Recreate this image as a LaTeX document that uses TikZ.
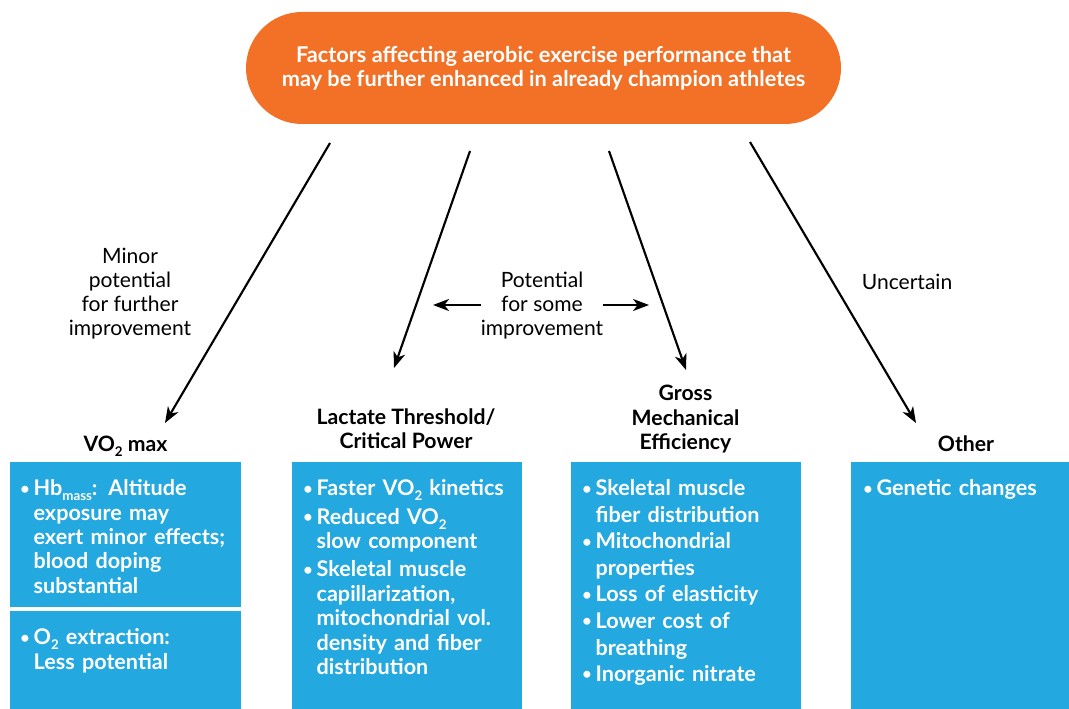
\documentclass[tikz,border=0pt]{standalone}
\usepackage{fontspec}
\setmainfont{Lato}
\usetikzlibrary{arrows.meta}

\definecolor{topOrange}{RGB}{242,113,38}
\definecolor{boxBlue}{RGB}{35,168,224}

% lowered small index, as in VO2 and Hb_mass
\newcommand{\lowidx}[1]{\raisebox{-0.45ex}{\fontsize{10}{10}\selectfont #1}}
% small bullet mark
\newcommand{\bmark}{\raisebox{0.15ex}{\fontsize{12}{12}\selectfont\textbullet}}
% bullet item with hanging indent; \\ inside breaks the line, not the paragraph
\newcommand{\bitem}[1]{\par\hangindent=10pt\hangafter=1\noindent\makebox[10pt][l]{\bmark}\begingroup\let\\\newline#1\endgroup\par}

\tikzset{
  topbox/.style={draw=none, fill=topOrange, text=white, font=\bfseries\fontsize{16.3}{18}\selectfont,
    align=center, minimum width=446.25pt, minimum height=84pt, rounded corners=42pt, inner sep=0pt},
  bluebox/.style={draw=none, fill=boxBlue, anchor=north west, inner sep=0pt},
  boxtext/.style={text=white, anchor=north west, inner sep=0pt, text width=168pt, align=left,
    font=\bfseries\fontsize{16.2}{18.3}\selectfont},
  head/.style={anchor=north, inner sep=0pt, align=center, font=\bfseries\fontsize{15.9}{18.3}\selectfont},
  lbl/.style={inner sep=0pt, align=center, font=\fontsize{15.8}{18}\selectfont},
  arr/.style={line width=1.6pt, -{Stealth[length=12pt, width=9pt, inset=3.5pt]}},
}

\begin{document}
\begin{tikzpicture}[x=0.75pt, y=-0.75pt]
\clip (0,0) rectangle (1069,709);

% title
\node[topbox] (top) at (543.5,68)
  {Factors affecting aerobic exercise performance that\\may be further enhanced in already champion athletes};

% arrow end points
\coordinate (a1s) at (330,143);  \coordinate (a1e) at (165,423);
\coordinate (a2s) at (470,151);  \coordinate (a2e) at (394,368);
\coordinate (a3s) at (609,151);  \coordinate (a3e) at (686,370);
\coordinate (a4s) at (750,142);  \coordinate (a4e) at (916,423);
\draw[arr] (a1s) -- (a1e);
\draw[arr] (a2s) -- (a2e);
\draw[arr] (a3s) -- (a3e);
\draw[arr] (a4s) -- (a4e);

% arrow labels
\node[lbl] (l1) at (130,294) {Minor\\potential\\for further\\improvement};
\node[lbl] (l2) at (542,306) {Potential\\for some\\improvement};
\node[lbl] (l3) at (907,282) {Uncertain};
\coordinate (pl) at (433,305);
\coordinate (pr) at (649,305);
\draw[arr] (l2.west |- pl) -- (pl);
\draw[arr] (l2.east |- pr) -- (pr);

% headings
\node[head] (h1) at (125.5,436) {VO\lowidx{2} max};
\node[head] (h2) at (406,408) {Lactate Threshold/\\Critical Power};
\node[head] (h3) at (685.5,385) {Gross\\Mechanical\\Efficiency};
\node[head] (h4) at (966,435) {Other};

% blue panels
\node[bluebox, minimum width=173.25pt, minimum height=108.75pt] (b1a) at (10,462) {};
\node[bluebox, minimum width=173.25pt, minimum height=82.5pt] (b1b) at (10,611) {};
\node[bluebox, minimum width=172.5pt, minimum height=195pt] (b2) at (292,462) {};
\node[bluebox, minimum width=172.5pt, minimum height=195pt] (b3) at (571,462) {};
\node[bluebox, minimum width=172.5pt, minimum height=195pt] (b4) at (851,462) {};

% panel contents
\node[boxtext] (t1a) at (20,471) {\bitem{Hb\lowidx{mass}: Altitude\\exposure may\\exert minor effects;\\blood doping\\substantial}};
\node[boxtext] (t1b) at (20,620) {\bitem{O\lowidx{2} extraction:\\Less potential}};
\node[boxtext] (t2) at (303,471) {\bitem{Faster VO\lowidx{2} kinetics}\vspace{3pt}\bitem{Reduced VO\lowidx{2}\\slow component}\vspace{3pt}\bitem{Skeletal muscle\\capillarization,\\mitochondrial vol.\\density and fiber\\distribution}};
\node[boxtext, font=\bfseries\fontsize{16.2}{19.9}\selectfont] (t3) at (582,469) {\bitem{Skeletal muscle\\fiber distribution}\bitem{Mitochondrial\\properties}\bitem{Loss of elasticity}\bitem{Lower cost of\\breathing}\bitem{Inorganic nitrate}};
\node[boxtext] (t4) at (863,471) {\bitem{Genetic changes}};
\end{tikzpicture}
\end{document}
